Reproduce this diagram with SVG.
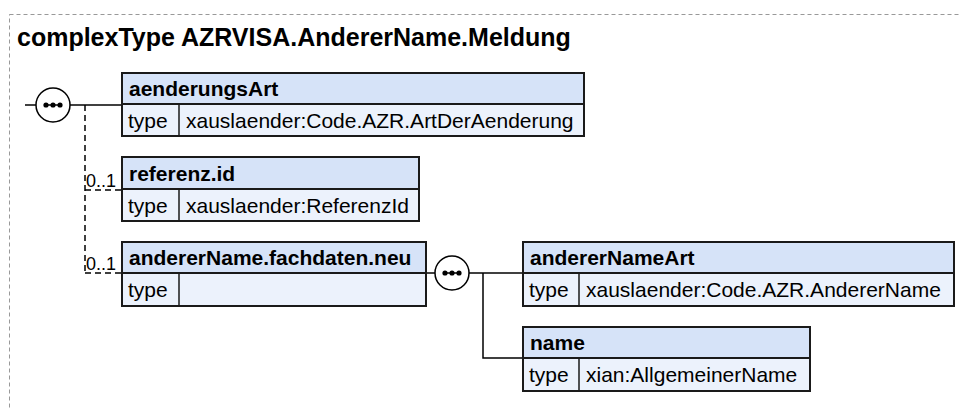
<svg xmlns="http://www.w3.org/2000/svg" width="960" height="408" viewBox="0 0 960 408">
<style>
.frame{fill:none;stroke:#999;stroke-width:1;stroke-dasharray:4,3}
.title{font-family:"Liberation Sans",Arial,sans-serif;font-weight:bold;font-size:25px;fill:#000}
.hd{fill:#d6e3f8;stroke:#1a1a1a;stroke-width:2}
.rw{fill:#ecf2fc;stroke:#1a1a1a;stroke-width:2}
.dv{stroke:#1a1a1a;stroke-width:1.5}
.nm{font-family:"Liberation Sans",Arial,sans-serif;font-weight:bold;font-size:21px;fill:#000}
.tx{font-family:"Liberation Sans",Arial,sans-serif;font-size:21px;fill:#000}
.occ{font-family:"Liberation Sans",Arial,sans-serif;font-size:18px;fill:#000}
.ln{stroke:#000;stroke-width:1.5;fill:none}
.dl{stroke:#000;stroke-width:1.5;fill:none;stroke-dasharray:6,4}
.seq{fill:#fff;stroke:#000;stroke-width:1.5}
</style>
<defs>
<g id="seqSym">
<circle class="seq" cx="0" cy="0" r="17"/>
<line x1="-9" y1="0" x2="9" y2="0" stroke="#000" stroke-width="1.5"/>
<circle cx="-7" cy="0" r="2.6" fill="#000"/>
<circle cx="0" cy="0" r="2.6" fill="#000"/>
<circle cx="7" cy="0" r="2.6" fill="#000"/>
</g>
</defs>
<rect class="frame" x="9.5" y="14.5" width="970" height="420"/>
<text class="title" x="17" y="46">complexType AZRVISA.AndererName.Meldung</text>

<g id="connectors">
<line class="ln" x1="25" y1="105" x2="36" y2="105"/>
<line class="ln" x1="70" y1="105" x2="122" y2="105"/>
<path class="dl" d="M85,105 V273"/>
<path class="dl" d="M85,190 H122"/>
<path class="dl" d="M85,273 H122"/>
<line class="ln" x1="426" y1="273" x2="435" y2="273"/>
<line class="ln" x1="469" y1="273" x2="523" y2="273"/>
<path class="ln" d="M483,273 V358 H523"/>
<text class="occ" x="86" y="187">0..1</text>
<text class="occ" x="86" y="270">0..1</text>
</g>

<g id="seq1"><use href="#seqSym" x="53" y="105"/></g>
<g id="seq2"><use href="#seqSym" x="452" y="273"/></g>

<g id="aenderungsArt">
<rect class="hd" x="122" y="73" width="462" height="31"/>
<rect class="rw" x="122" y="104" width="462" height="32"/>
<line class="dv" x1="179" y1="104" x2="179" y2="136"/>
<text class="nm" x="129" y="96">aenderungsArt</text>
<text class="tx" x="128" y="128">type</text>
<text class="tx" x="186" y="128">xauslaender:Code.AZR.ArtDerAenderung</text>
</g>

<g id="referenz.id">
<rect class="hd" x="122" y="157" width="297" height="32"/>
<rect class="rw" x="122" y="189" width="297" height="32"/>
<line class="dv" x1="179" y1="189" x2="179" y2="221"/>
<text class="nm" x="129" y="181">referenz.id</text>
<text class="tx" x="128" y="213">type</text>
<text class="tx" x="186" y="213">xauslaender:ReferenzId</text>
</g>

<g id="andererName.fachdaten.neu">
<rect class="hd" x="122" y="242" width="304" height="31"/>
<rect class="rw" x="122" y="273" width="304" height="33"/>
<line class="dv" x1="179" y1="273" x2="179" y2="306"/>
<text class="nm" x="129" y="265">andererName.fachdaten.neu</text>
<text class="tx" x="128" y="297">type</text>
</g>

<g id="andererNameArt">
<rect class="hd" x="523" y="242" width="431" height="31"/>
<rect class="rw" x="523" y="273" width="431" height="33"/>
<line class="dv" x1="579" y1="273" x2="579" y2="306"/>
<text class="nm" x="530" y="265">andererNameArt</text>
<text class="tx" x="529" y="297">type</text>
<text class="tx" x="586" y="297">xauslaender:Code.AZR.AndererName</text>
</g>

<g id="name">
<rect class="hd" x="523" y="327" width="287" height="31"/>
<rect class="rw" x="523" y="358" width="287" height="33"/>
<line class="dv" x1="579" y1="358" x2="579" y2="391"/>
<text class="nm" x="530" y="350">name</text>
<text class="tx" x="529" y="382">type</text>
<text class="tx" x="586" y="382">xian:AllgemeinerName</text>
</g>
</svg>
